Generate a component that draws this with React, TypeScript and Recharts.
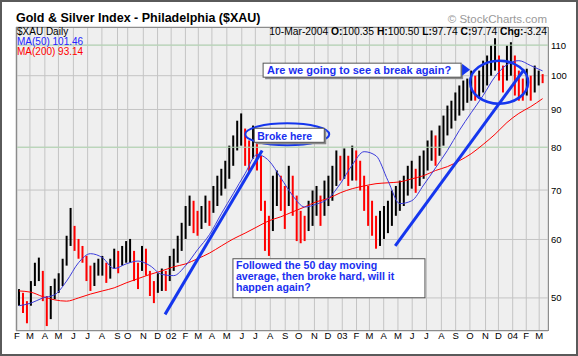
import React from "react";
import {
  ComposedChart,
  Bar,
  Cell,
  Line,
  XAxis,
  YAxis,
  CartesianGrid,
  ReferenceLine,
  ReferenceDot,
} from "recharts";

// $XAU daily, Feb 2001 .. 10 Mar 2004, grouped into ~6 trading-day bars
const barHigh = [
  51.4, 50.8, 49.5, 52.7, 55.8, 56.7, 54.4, 50.3, 51.9, 53.1,
  54.0, 56.5, 60.7, 66.2, 62.6, 60.1, 58.8, 57.0, 55.3, 55.8,
  56.5, 57.0, 55.8, 56.5, 58.3, 57.9, 58.8, 59.7, 60.1, 57.9,
  55.8, 58.8, 58.3, 54.4, 52.7, 54.0, 54.8, 54.4, 57.0, 58.3,
  60.7, 63.2, 66.6, 68.8, 67.7, 65.6, 66.6, 68.8, 67.7, 70.9,
  73.2, 74.8, 76.7, 80.4, 83.0, 86.9, 88.9, 84.8, 81.7, 85.6,
  83.8, 77.9, 67.7, 64.6, 73.2, 74.4, 73.2, 70.9, 75.5, 73.2,
  68.8, 65.6, 64.6, 67.7, 69.9, 70.9, 68.8, 72.1, 73.2, 75.5,
  79.2, 77.9, 79.7, 77.9, 80.4, 79.2, 76.7, 73.2, 70.9, 67.7,
  64.6, 65.6, 66.6, 67.7, 69.9, 70.9, 72.1, 73.2, 75.5, 76.7,
  74.8, 77.9, 79.2, 81.7, 84.3, 83.0, 85.6, 88.3, 91.1, 92.5,
  94.9, 97.0, 98.5, 99.1, 101.6, 100.0, 101.6, 104.8, 106.5, 109.9,
  112.4, 106.5, 103.2, 109.9, 111.0, 106.5, 101.6, 99.1, 102.2, 100.0,
  103.2, 101.6, 100.5,
];
const barLow = [
  48.8, 47.7, 46.2, 48.8, 51.9, 52.7, 49.5, 45.8, 46.8, 49.8,
  50.8, 51.9, 55.3, 58.8, 57.9, 56.5, 55.8, 52.7, 51.1, 51.9,
  53.6, 53.6, 52.4, 53.1, 54.8, 54.0, 55.3, 55.8, 55.8, 52.7,
  51.4, 54.4, 53.6, 50.3, 49.2, 50.8, 51.1, 51.1, 52.7, 54.4,
  55.8, 57.9, 60.1, 62.6, 61.2, 60.7, 62.0, 63.2, 62.6, 65.2,
  66.6, 68.8, 70.3, 72.5, 75.5, 79.2, 80.4, 75.5, 73.9, 77.2,
  74.4, 65.6, 57.9, 57.0, 61.6, 66.6, 65.6, 62.0, 66.6, 64.6,
  59.7, 59.3, 59.7, 61.6, 62.6, 64.6, 62.6, 64.6, 66.6, 67.7,
  70.9, 72.1, 72.5, 70.9, 72.1, 72.1, 69.9, 65.6, 62.6, 60.7,
  58.3, 58.8, 60.1, 61.2, 62.6, 64.6, 65.6, 66.6, 68.8, 70.3,
  69.4, 70.9, 72.5, 74.4, 76.7, 75.5, 77.9, 80.4, 83.0, 84.8,
  86.9, 88.3, 89.7, 91.9, 92.5, 92.5, 93.1, 94.9, 97.0, 100.0,
  101.6, 98.5, 94.9, 98.5, 100.0, 94.0, 92.5, 92.5, 94.0, 92.5,
  94.9, 97.0, 97.7,
];

// moving averages, read at every 3rd bar
const ma50 = [
  48.8, 49.2, 50.0, 50.5, 52.7, 55.8, 57.4, 56.7, 54.8, 55.6,
  56.1, 55.3, 53.8, 53.6, 55.3, 58.1, 60.9, 65.0, 69.2, 73.7,
  78.2, 76.7, 72.7, 68.8, 66.4, 67.0, 68.2, 71.4, 75.7, 78.9,
  77.9, 72.1, 67.1, 67.7, 71.1, 75.0, 79.2, 84.3, 89.1, 94.0,
  99.7, 103.5, 104.8, 103.2, 101.5,
];
const ma200 = [
  51.1, 50.9, 50.2, 49.7, 49.5, 50.0, 50.6, 51.1, 51.6, 52.4,
  53.1, 53.8, 54.4, 55.1, 55.6, 56.5, 57.5, 58.8, 60.1, 61.2,
  62.4, 63.6, 64.4, 65.4, 66.4, 67.5, 68.2, 69.4, 70.3, 70.9,
  71.4, 71.6, 71.8, 72.5, 73.2, 74.4, 75.3, 76.7, 78.4, 80.7,
  83.3, 86.4, 88.9, 90.8, 93.1,
];

// trading days per month, Feb 2001 .. Feb 2004 (Mar 2004 runs 8 days to the 10th)
const monthTradingDays = [
  19, 22, 20, 22, 21, 21, 23, 15, 23, 21, 20,
  21, 19, 20, 22, 22, 20, 22, 22, 20, 23, 20, 21,
  21, 19, 21, 21, 21, 21, 22, 21, 21, 23, 19, 21,
  20, 19,
];
const monthLabels = [
  "F", "M", "A", "M", "J", "J", "A", "S", "O", "N", "D",
  "02", "F", "M", "A", "M", "J", "J", "A", "S", "O", "N", "D",
  "03", "F", "M", "A", "M", "J", "J", "A", "S", "O", "N", "D",
  "04", "F", "M",
];
const priceTicks = [50, 60, 70, 80, 90, 100, 110];
const TOTAL_DAYS = 777;

const FONT = '"Liberation Sans", Arial, sans-serif';
const ANNO = "#1536ee";
const TEXT_BLUE = "#1a2ff0";

const STEP = TOTAL_DAYS / barHigh.length;
const bars = barHigh.map((hi, i) => {
  const lo = barLow[i];
  const prev = i > 0 ? (barHigh[i - 1] + barLow[i - 1]) / 2 : (hi + lo) / 2;
  return { day: (i + 0.5) * STEP, range: [lo, hi], down: (hi + lo) / 2 < prev };
});
const maRows = ma50.map((v, k) => ({
  day: (3 * k + 0.5) * STEP,
  ma50: v,
  ma200: ma200[k],
}));
const monthStarts: number[] = [0];
monthTradingDays.forEach((n, i) => monthStarts.push(monthStarts[i] + n));

const XTick = (p: any) => {
  const i = monthStarts.indexOf(p.payload.value);
  return (
    <text x={p.x} y={339} textAnchor="middle" fontSize={9.5} fontFamily={FONT} fill="#000">
      {monthLabels[i]}
    </text>
  );
};
const YTick = (p: any) => (
  <text x={551} y={p.y + 3.5} fontSize={9.5} fontFamily={FONT} fill="#000">
    {p.payload.value}
  </text>
);

const BrokeHere = ({ cx, cy }: any) => (
  <g>
    <ellipse cx={cx} cy={cy} rx={42} ry={11} fill="none" stroke={ANNO} strokeWidth={2} />
    <rect x={cx - 31} y={cy - 4} width={70} height={14} fill="#8a8a8a" />
    <rect x={cx - 33} y={cy - 6} width={70} height={14} fill="#fff" stroke="#555" strokeWidth={1} />
    <text x={cx - 30} y={cy + 5.3} fontSize={10.5} fontWeight="bold" fontFamily={FONT} fill={TEXT_BLUE}>
      Broke here
    </text>
  </g>
);

const BreakAgain = ({ cx, cy }: any) => (
  <g>
    <ellipse cx={cx} cy={cy} rx={29} ry={21.5} fill="none" stroke={ANNO} strokeWidth={2.5} />
    <rect x={cx - 234} y={cy - 17} width={198} height={14} fill="#8a8a8a" />
    <rect x={cx - 236} y={cy - 19} width={198} height={14} fill="#fff" stroke="#555" strokeWidth={1} />
    <text x={cx - 232} y={cy - 8} fontSize={11} fontWeight="bold" fontFamily={FONT} fill={TEXT_BLUE}>
      Are we going to see a break again?
    </text>
    <polygon
      points={`${cx - 37},${cy - 18.5} ${cx - 37},${cy - 6.5} ${cx - 29},${cy - 12.5}`}
      fill={ANNO}
    />
  </g>
);

const Followed = ({ cx, cy }: any) => (
  <g>
    <rect x={cx} y={cy} width={192} height={39} fill="#fff" stroke="#555" strokeWidth={1} />
    <text fontSize={10.6} fontWeight="bold" fontFamily={FONT} fill={TEXT_BLUE}>
      <tspan x={cx + 3} y={cy + 10.5}>Followed the 50 day moving</tspan>
      <tspan x={cx + 3} y={cy + 21.5}>average, then broke hard, will it</tspan>
      <tspan x={cx + 3} y={cy + 32.5}>happen again?</tspan>
    </text>
  </g>
);

export default function App() {
  return (
    <div
      style={{
        position: "absolute",
        left: 0,
        top: 0,
        width: 578,
        height: 356,
        background: "#fff",
        fontFamily: FONT,
      }}
    >
      <ComposedChart
        width={578}
        height={356}
        data={bars}
        margin={{ top: 27, right: 0, bottom: 0, left: 16 }}
      >
        <CartesianGrid fill="#efefef" stroke="#c4c4c4" strokeWidth={1} />
        <XAxis
          type="number"
          dataKey="day"
          domain={[-1.5, 782]}
          allowDataOverflow
          ticks={monthStarts}
          interval={0}
          height={25}
          axisLine={false}
          tickLine={false}
          tick={<XTick />}
        />
        <YAxis
          orientation="right"
          type="number"
          scale="log"
          domain={[45.1, 116.4]}
          allowDataOverflow
          ticks={priceTicks}
          width={30}
          axisLine={false}
          tickLine={false}
          tick={<YTick />}
        />
        <ReferenceLine y={80} stroke="#b4dab4" />
        <ReferenceLine y={110} stroke="#b4dab4" />
        <Bar dataKey="range" barSize={2} isAnimationActive={false}>
          {bars.map((b, i) => (
            <Cell key={i} fill={b.down ? "#ff0000" : "#000000"} />
          ))}
        </Bar>
        <Line
          data={maRows}
          dataKey="ma200"
          type="monotone"
          stroke="#ff0000"
          strokeWidth={1}
          dot={false}
          isAnimationActive={false}
        />
        <Line
          data={maRows}
          dataKey="ma50"
          type="monotone"
          stroke="#3c3cdc"
          strokeWidth={1}
          dot={false}
          isAnimationActive={false}
        />
        <ReferenceLine
          segment={[{ x: 218, y: 47.5 }, { x: 361, y: 79.2 }]}
          stroke={ANNO}
          strokeWidth={3}
        />
        <ReferenceLine
          segment={[{ x: 557, y: 58.8 }, { x: 747, y: 102.0 }]}
          stroke={ANNO}
          strokeWidth={3}
        />
        <ReferenceDot x={398} y={83.3} r={0} shape={BrokeHere} ifOverflow="visible" />
        <ReferenceDot x={710} y={98.0} r={0} shape={BreakAgain} ifOverflow="visible" />
        <ReferenceDot x={318} y={56.5} r={0} shape={Followed} ifOverflow="visible" />
      </ComposedChart>

      <svg
        width={578}
        height={356}
        style={{ position: "absolute", left: 0, top: 0, pointerEvents: "none" }}
      >
        <rect x={1} y={1} width={576} height={354} fill="none" stroke="#5a5a5a" strokeWidth={2} />
        <rect x={16.5} y={27.5} width={532} height={303} fill="none" stroke="#8c8c8c" strokeWidth={1} />
        <text x={16} y={22} fontSize={12.5} fontWeight="bold" fontFamily={FONT} fill="#000">
          Gold &amp; Silver Index - Philadelphia ($XAU)
        </text>
        <text x={547} y={23} fontSize={11.5} textAnchor="end" fontFamily={FONT} fill="#9a9a9a">
          © StockCharts.com
        </text>
        <text x={547} y={35} fontSize={10.3} textAnchor="end" fontFamily={FONT} fill="#000">
          10-Mar-2004 <tspan fontWeight="bold">O:</tspan>100.35 <tspan fontWeight="bold">H:</tspan>100.50{" "}
          <tspan fontWeight="bold">L:</tspan>97.74 <tspan fontWeight="bold">C:</tspan>97.74{" "}
          <tspan fontWeight="bold">Chg:</tspan>-3.24
        </text>
        <text x={17} y={34.5} fontSize={10} fontFamily={FONT} fill="#000">$XAU Daily</text>
        <text x={17} y={45} fontSize={10} fontFamily={FONT} fill="#2424ff">MA(50) 101.46</text>
        <text x={17} y={55} fontSize={10} fontFamily={FONT} fill="#ff0000">MA(200) 93.14</text>
      </svg>
    </div>
  );
}
